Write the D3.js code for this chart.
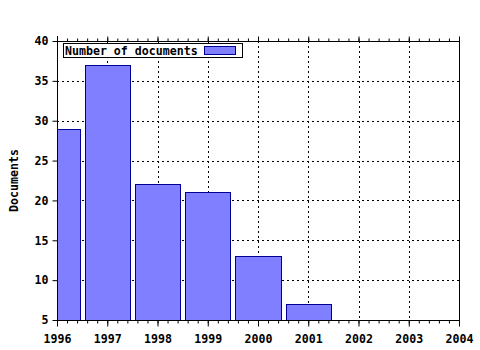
<!DOCTYPE html>
<html>
<head>
<meta charset="utf-8">
<script src="https://cdn.jsdelivr.net/npm/d3@7"></script>
<style>
  body { margin: 0; background: #fff; }
  text { font-family: "DejaVu Sans Mono", monospace; font-weight: bold; font-size: 11.6px; fill: #000; }
</style>
</head>
<body>
<script>
// data
const years = [1996, 1997, 1998, 1999, 2000, 2001];
const documents = [29, 37, 22, 21, 13, 7];
const xTicks = [1996, 1997, 1998, 1999, 2000, 2001, 2002, 2003, 2004];
const yTicks = [5, 10, 15, 20, 25, 30, 35, 40];
const seriesName = "Number of documents";

const W = 480, H = 350;
const pLeft = 57, pRight = 459, pTop = 41, pBottom = 320;

const svg = d3.select("body").append("svg")
    .attr("width", W)
    .attr("height", H);

const x = d3.scaleLinear().domain([1996, 2004]).range([pLeft, pRight]);
const y = d3.scaleLinear().domain([5, 40]).range([pBottom, pTop]);

// clip for bars
svg.append("clipPath").attr("id", "plot")
  .append("rect")
    .attr("x", pLeft).attr("y", pTop)
    .attr("width", pRight - pLeft).attr("height", pBottom - pTop);

// grid
const grid = svg.append("g")
    .attr("stroke", "#000")
    .attr("stroke-width", 1)
    .attr("stroke-dasharray", "2,3")
    .attr("shape-rendering", "crispEdges");

grid.selectAll(".gx").data(xTicks.slice(1, -1)).join("line")
    .attr("x1", d => Math.round(x(d)) + 0.5).attr("x2", d => Math.round(x(d)) + 0.5)
    .attr("y1", pTop).attr("y2", pBottom);

grid.selectAll(".gy").data(yTicks.slice(1, -1)).join("line")
    .attr("x1", pLeft).attr("x2", pRight)
    .attr("y1", d => Math.round(y(d)) + 0.5).attr("y2", d => Math.round(y(d)) + 0.5);

// bars
svg.append("g").attr("clip-path", "url(#plot)")
  .selectAll("rect").data(years).join("rect")
    .attr("x", (d) => Math.round(x(d - 0.45)) + 0.5)
    .attr("width", d => Math.round(x(d + 0.45)) - Math.round(x(d - 0.45)))
    .attr("y", (d, i) => Math.round(y(documents[i])) + 0.5)
    .attr("height", (d, i) => pBottom - Math.round(y(documents[i])))
    .attr("fill", "#7f7fff")
    .attr("stroke", "#000099")
    .attr("stroke-width", 1);

// axes
const minor = d3.range(1996, 2004.001, 0.2);

const bottomAxis = svg.append("g")
    .attr("transform", `translate(0,${pBottom + 0.5})`)
    .call(d3.axisBottom(x).tickValues(xTicks).tickFormat(d3.format("d")).tickSize(6).tickPadding(8));
bottomAxis.select(".domain").remove();
bottomAxis.selectAll("text").attr("font-size", null).attr("font-family", null);

svg.append("g")
    .attr("transform", `translate(0,${pBottom + 0.5})`)
    .call(d3.axisBottom(x).tickValues(minor).tickFormat("").tickSize(3).tickSizeOuter(0))
    .select(".domain").attr("d", `M${pLeft},0H${pRight + 1}`);

const topAxis = svg.append("g")
    .attr("transform", `translate(0,${pTop + 0.5})`)
    .call(d3.axisTop(x).tickValues(minor).tickFormat("").tickSize(3).tickSizeOuter(0));
topAxis.select(".domain").attr("d", `M${pLeft},0H${pRight}`);

svg.append("g")
    .attr("transform", `translate(0,${pTop + 0.5})`)
    .call(d3.axisTop(x).tickValues(xTicks).tickFormat("").tickSize(5))
    .select(".domain").remove();

const leftAxis = svg.append("g")
    .attr("transform", `translate(${pLeft + 0.5},0)`)
    .call(d3.axisLeft(y).tickValues(yTicks).tickSize(5).tickPadding(4).tickSizeOuter(0));
leftAxis.select(".domain").attr("d", `M0,${pTop - 5}V${pBottom + 6}`);
leftAxis.selectAll("text").attr("font-size", null).attr("font-family", null);

svg.append("line")
    .attr("x1", pRight + 0.5).attr("x2", pRight + 0.5)
    .attr("y1", pTop).attr("y2", pBottom)
    .attr("stroke", "#000");

svg.selectAll(".tick line").attr("stroke", "#000");
svg.selectAll(".domain").attr("stroke", "#000");

// y label
svg.append("text")
    .attr("transform", `translate(18,${(pTop + pBottom) / 2}) rotate(-90)`)
    .attr("text-anchor", "middle")
    .text("Documents");

// legend
const legend = svg.append("g");
legend.append("rect")
    .attr("x", 63.5).attr("y", 43.5)
    .attr("width", 179).attr("height", 14)
    .attr("fill", "#fff").attr("stroke", "#000");
legend.append("text")
    .attr("x", 65).attr("y", 54.5)
    .text(seriesName);
legend.append("rect")
    .attr("x", 204.5).attr("y", 46.5)
    .attr("width", 31).attr("height", 8)
    .attr("fill", "#7f7fff").attr("stroke", "#000099");
</script>
</body>
</html>
